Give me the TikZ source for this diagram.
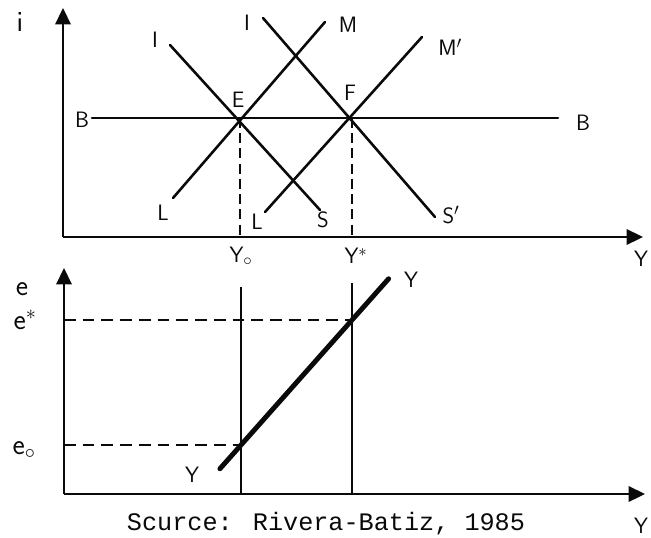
\documentclass[tikz,border=0pt]{standalone}
\usepackage{fontspec}
\newfontfamily\capfont{Liberation Mono}
\usepackage{tikz}
\usetikzlibrary{arrows.meta,positioning,calc}
\definecolor{inkblk}{RGB}{10,10,10}

\begin{document}
\begin{tikzpicture}[x=0.03cm, y=-0.03cm, inkblk,
    lbl/.style={font=\sffamily\fontsize{19}{22}\selectfont, inner sep=0pt},
    smlbl/.style={font=\sffamily\fontsize{25}{28}\selectfont, inner sep=0pt},
    axisline/.style={line width=2.5pt, -{Triangle[length=14pt,width=13pt]}},
    curveline/.style={line width=2.2pt, line cap=round},
    thickline/.style={line width=4.2pt, line cap=round},
    guideline/.style={line width=1.7pt, dash pattern=on 8.5pt off 4.5pt},
    levelline/.style={line width=2.4pt, dash pattern=on 10pt off 6pt},
    plainline/.style={line width=1.6pt}]
  \useasboundingbox (0,0) rectangle (651,538);

  % upper panel: i against Y
  \coordinate (O1) at (63,237);
  \coordinate (iTop) at (63,8);
  \coordinate (yRight) at (643,237);
  \coordinate (E) at (240,118);
  \coordinate (F) at (352,118);
  \draw[axisline] (O1) -- (iTop);
  \draw[axisline] (O1) -- (yRight);

  \node[smlbl] (iLab) at (20,22) {i};
  \node[lbl] (yLab) at (641,259) {Y};

  \coordinate (bL) at (92,118);
  \coordinate (bR) at (558,118);
  \draw[curveline] (bL) -- (bR);
  \node[lbl] (bLab1) at (82,120) {B};
  \node[lbl] (bLab2) at (583,123) {B};

  % IS curves
  \coordinate (is1a) at (170,45);  \coordinate (is1b) at (320,210);
  \coordinate (is2a) at (263,18);  \coordinate (is2b) at (435,217);
  \draw[curveline] (is1a) -- (is1b);
  \draw[curveline] (is2a) -- (is2b);
  \node[lbl] (iLab1) at (155,40) {I};
  \node[lbl] (iLab2) at (247,23) {I};
  \node[lbl] (sLab1) at (323,220) {S};
  \node[lbl] (sLab2) at (451,215) {S$'$};

  % LM curves
  \coordinate (lm1a) at (173,198); \coordinate (lm1b) at (325,22);
  \coordinate (lm2a) at (265,212); \coordinate (lm2b) at (422,37);
  \draw[curveline] (lm1a) -- (lm1b);
  \draw[curveline] (lm2a) -- (lm2b);
  \node[lbl] (lLab1) at (163,213) {L};
  \node[lbl] (lLab2) at (257,222) {L};
  \node[lbl] (mLab1) at (348,25) {M};
  \node[lbl] (mLab2) at (450,47) {M$'$};

  \node[lbl] (eLab) at (238,100) {E};
  \node[lbl] (fLab) at (350,93) {F};
  \draw[guideline] (E) -- (E |- O1);
  \draw[guideline] (F) -- (F |- O1);
  \node[lbl] (y0Lab) at (241,256) {Y$_\circ$};
  \node[lbl] (ysLab) at (356,256) {Y$^{*}$};

  % lower panel: e against Y
  \coordinate (O2) at (64,494);
  \coordinate (eTop) at (64,268);
  \coordinate (xRight) at (645,494);
  \draw[axisline] (O2) -- (eTop);
  \draw[axisline] (O2) -- (xRight);
  \node[smlbl] (eAx) at (22,289) {e};
  \node[smlbl] (esLab) at (25,320) {e$^{*}$};
  \node[smlbl] (e0Lab) at (24,450) {e$_\circ$};
  \node[lbl] (xLab) at (641,526) {Y};

  \coordinate (y0Top) at (241,287);
  \coordinate (ysTop) at (352,283);
  \draw[plainline] (y0Top) -- (y0Top |- O2);
  \draw[plainline] (ysTop) -- (ysTop |- O2);

  \coordinate (P0) at (241,445);
  \coordinate (Ps) at (352,320);
  \draw[levelline] (O2 |- Ps) -- (Ps);
  \draw[levelline] (O2 |- P0) -- (P0);
  \draw[thickline] ($(P0)!-0.19!(Ps)$) -- ($(Ps)!-0.33!(P0)$);
  \node[lbl] (yLabTop) at (411,280) {Y};
  \node[lbl] (yLabBot) at (192,475) {Y};

  \node[font=\capfont\fontsize{21.5}{24}\selectfont, inner sep=0pt] (src) at (326,524)
    {Scurce: Rivera-Batiz, 1985};
\end{tikzpicture}
\end{document}
